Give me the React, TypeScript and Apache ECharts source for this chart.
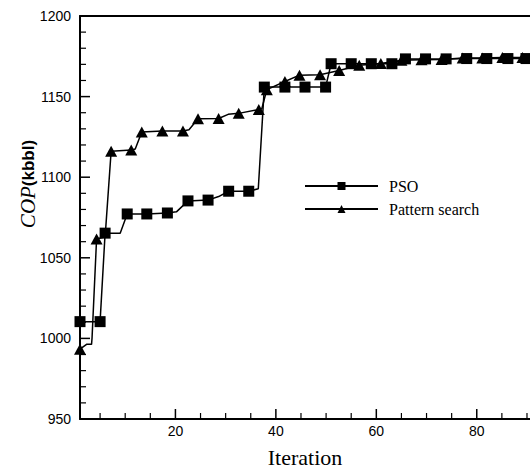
import React, { useEffect, useRef } from "react";
import * as echarts from "echarts";

// PSO convergence: line vertices (iteration, COP), and indices that carry no marker
const psoIter = [1, 5, 6, 9, 10.4, 14.3, 18.4, 20.2, 22.5, 26.5, 28.6, 30.6, 34.6, 36.5, 37.7, 41.8, 45.8, 49.9, 51, 55, 59, 63.1, 65.8, 69.8, 73.9, 78, 82, 86.2, 89.8];
const psoCOP = [1010.4, 1010.4, 1065.3, 1065.3, 1077.2, 1077.2, 1077.8, 1078.5, 1085.3, 1085.8, 1088, 1091.3, 1091.3, 1092.8, 1155.9, 1155.9, 1155.9, 1155.9, 1170.4, 1170.4, 1170.4, 1170.4, 1173.4, 1173.4, 1173.4, 1173.6, 1173.6, 1173.6, 1173.6];
const psoCorners = [3, 7, 10, 13];

// Pattern search convergence
const psIter = [1, 2.3, 3.3, 3.4, 4.3, 6, 7.2, 11.2, 12, 13.3, 17.4, 21.5, 22.7, 24.5, 28.6, 30.5, 32.6, 36.6, 37.2, 38.2, 41.8, 44.7, 48.8, 52.6, 56.6, 60.9, 65, 69, 73, 77.2, 81.1, 85.1, 89.1];
const psCOP = [993.3, 996.3, 996.3, 1000.3, 1061.7, 1063, 1116.1, 1116.8, 1117.5, 1128.1, 1128.6, 1128.6, 1129.5, 1136.2, 1136.4, 1139, 1139.6, 1142, 1142.5, 1154.3, 1159.4, 1163.3, 1163.5, 1166.2, 1169.4, 1170.6, 1172.6, 1172.8, 1173, 1174, 1174, 1174.2, 1174.2];
const psCorners = [1, 2, 3, 5, 8, 12, 15, 18];

const seriesNames = ["PSO", "Pattern search"];
const xMajorTicks = [20, 40, 60, 80];
const xMinorTicks = [5, 10, 15, 25, 30, 35, 45, 50, 55, 65, 70, 75, 85, 90];
const yMajorTicks = [950, 1000, 1050, 1100, 1150, 1200];
const yMinorTicks = [960, 970, 980, 990, 1010, 1020, 1030, 1040, 1060, 1070, 1080, 1090, 1110, 1120, 1130, 1140, 1160, 1170, 1180, 1190];
const xMin = 1;
const xMax = 90.6;
const yMin = 950;
const yMax = 1200;
const yStep = 50;

function buildData(xs: number[], ys: number[], corners: number[]) {
  const c = new Set(corners);
  return xs.map((x, i) =>
    c.has(i) ? { value: [x, ys[i]], symbol: "none" } : { value: [x, ys[i]] }
  );
}

const mkLine = () => ({ show: true, lineStyle: { color: "#000", width: 2 } });

export default function App() {
  const ref = useRef<HTMLDivElement>(null);
  useEffect(() => {
    if (!ref.current) return;
    const chart = echarts.init(ref.current, null, { renderer: "svg" });
    const sans = "Liberation Sans";
    const serif = "Liberation Serif";
    const yTitle = {
      id: "ytitle",
      type: "text",
      x: 28,
      y: 184,
      rotation: Math.PI / 2,
      style: {
        text: "{a|COP}{b|(kbbl)}",
        align: "center",
        verticalAlign: "middle",
        rich: {
          a: { fontFamily: serif, fontStyle: "italic", fontSize: 21, fill: "#000", color: "#000" },
          b: { fontFamily: sans, fontWeight: "bold", fontSize: 17, fill: "#000", color: "#000" },
        },
      },
    };
    chart.setOption({
      animation: false,
      grid: { left: 80, right: 0, top: 16, bottom: 43 },
      legend: {
        orient: "vertical",
        left: 304,
        top: 178,
        padding: 0,
        itemWidth: 73,
        itemHeight: 10,
        itemGap: 7,
        textStyle: { fontFamily: serif, fontSize: 16, color: "#000", padding: [0, 0, 0, 6] },
        data: seriesNames,
      },
      xAxis: [
        {
          type: "value",
          position: "bottom",
          min: xMin,
          max: xMax,
          axisLine: mkLine(),
          axisTick: { show: false },
          axisLabel: { customValues: xMajorTicks, fontFamily: sans, fontSize: 14, color: "#000", margin: 5 },
          splitLine: { show: false },
          name: "Iteration",
          nameLocation: "middle",
          nameGap: 27,
          nameTextStyle: { fontFamily: serif, fontSize: 22, color: "#000" },
        },
        {
          type: "value",
          position: "top",
          min: xMin,
          max: xMax,
          axisLine: mkLine(),
          axisTick: { show: false },
          axisLabel: { show: false },
          splitLine: { show: false },
        },
      ],
      yAxis: {
        type: "value",
        min: yMin,
        max: yMax,
        interval: yStep,
        axisLine: mkLine(),
        axisTick: { show: false },
        axisLabel: { fontFamily: sans, fontSize: 14, color: "#000", margin: 9, formatter: (v: number) => String(v) },
        splitLine: { show: false },
      },
      graphic: [yTitle],
      series: [
        {
          name: seriesNames[0],
          type: "line",
          data: buildData(psoIter, psoCOP, psoCorners),
          symbol: "rect",
          symbolSize: 11,
          showAllSymbol: true,
          lineStyle: { color: "#000", width: 1.5 },
          itemStyle: { color: "#000" },
          z: 3,
        },
        {
          name: seriesNames[1],
          type: "line",
          data: buildData(psIter, psCOP, psCorners),
          symbol: "triangle",
          symbolSize: [12, 11],
          showAllSymbol: true,
          lineStyle: { color: "#000", width: 1.5 },
          itemStyle: { color: "#000" },
          z: 3,
        },
      ],
    });

    // inward tick marks placed through the chart's own scales
    const ticks: any[] = [];
    const addX = (vals: number[], len: number, w: number) =>
      vals.forEach((v) => {
        const p = chart.convertToPixel({ gridIndex: 0 }, [v, yMin]) as number[];
        ticks.push({
          type: "line",
          z: 100,
          shape: { x1: p[0], y1: p[1], x2: p[0], y2: p[1] - len },
          style: { stroke: "#000", lineWidth: w },
        });
      });
    const addY = (vals: number[], len: number, w: number) =>
      vals.forEach((v) => {
        const p = chart.convertToPixel({ gridIndex: 0 }, [xMin, v]) as number[];
        ticks.push({
          type: "line",
          z: 100,
          shape: { x1: p[0], y1: p[1], x2: p[0] + len, y2: p[1] },
          style: { stroke: "#000", lineWidth: w },
        });
      });
    addX(xMajorTicks, 10, 1.5);
    addX(xMinorTicks, 6, 1.2);
    addY(yMajorTicks, 10, 1.5);
    addY(yMinorTicks, 6, 1.2);
    chart.setOption({ graphic: [yTitle, ...ticks] }, { replaceMerge: ["graphic"] });

    return () => chart.dispose();
  }, []);
  return (
    <div ref={ref} style={{ position: "fixed", left: 0, top: 0, width: 530, height: 473, background: "#fff" }} />
  );
}
